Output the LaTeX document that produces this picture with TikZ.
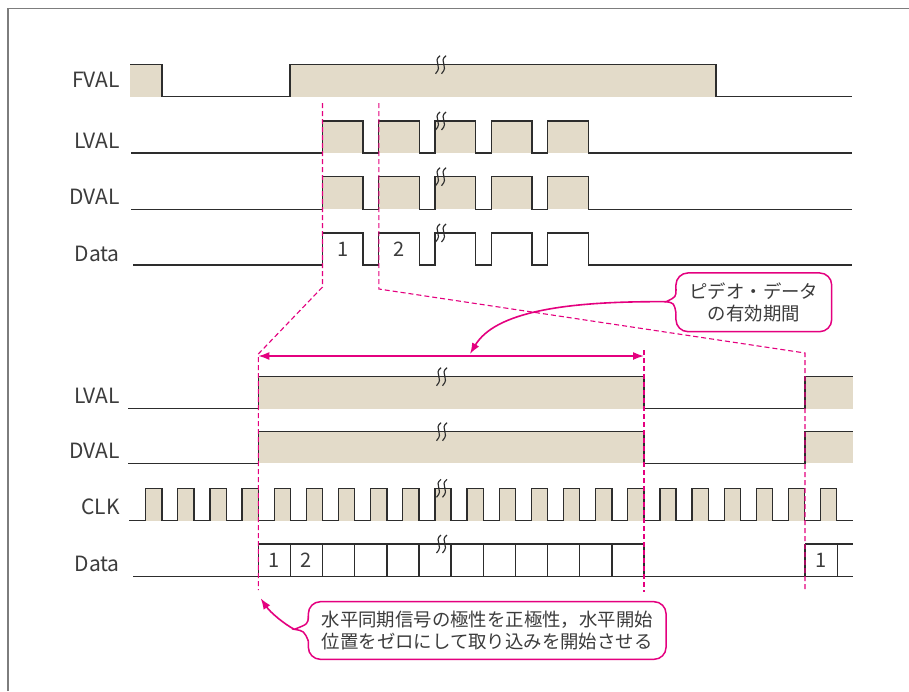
\documentclass[tikz,border=0pt]{standalone}
\usepackage{fontspec}
\setmainfont{Noto Sans CJK JP}
\usetikzlibrary{arrows.meta}
\definecolor{fillc}{RGB}{227,219,201}
\definecolor{linec}{RGB}{45,45,45}
\definecolor{mag}{RGB}{228,0,127}
\definecolor{framec}{RGB}{125,125,125}
\definecolor{txtc}{RGB}{60,60,60}
\newcommand\brkmark[2]{%
  \draw[brk] ({#1+3},{#2-9}) .. controls ({#1-5},{#2-3}) and ({#1+6.5},{#2+1}) .. ({#1-1.5},{#2+9});
  \draw[brk] ({#1+9},{#2-9}) .. controls ({#1+1},{#2-3}) and ({#1+12.5},{#2+1}) .. ({#1+4.5},{#2+9});
}
\begin{document}
\begin{tikzpicture}[x=1pt,y=-1pt,
 sig/.style={linec,line width=1.3pt,line join=miter},
 lbl/.style={anchor=east,inner sep=0pt,text=txtc,font=\fontsize{21}{25}\selectfont},
 num/.style={inner sep=0pt,text=txtc,font=\fontsize{20}{24}\selectfont},
 brk/.style={linec,line width=1.15pt},
 mdash/.style={mag,line width=1.1pt,dash pattern=on 5pt off 3pt},
 callout/.style={draw=mag,line width=1.5pt,fill=white,rounded corners=12pt,align=center,text=txtc,font=\fontsize{18.4}{22.5}\selectfont,inner sep=0pt},
 marrow/.style={mag,line width=1.6pt,-{Latex[length=11pt,width=8pt]}},
 darrow/.style={mag,line width=1.6pt,{Latex[length=11pt,width=8pt]}-{Latex[length=11pt,width=8pt]}},
]
\useasboundingbox (0,0) rectangle (909,691);
\fill[white] (0,0) rectangle (909,691);
% frame
\draw[framec,line width=1.3pt] (8,691) -- (8,8.5) -- (909,8.5);

% ---------------- top section ----------------
% FVAL
\fill[fillc] (130,64.7) rectangle (162,96.7);
\fill[fillc] (290,64.7) rectangle (716,96.7);
\draw[sig] (130,64.7) -- (162,64.7) -- (162,96.7) -- (290,96.7) -- (290,64.7) -- (716,64.7) -- (716,96.7) -- (852,96.7);
% LVAL
\foreach \k in {0,...,4} \fill[fillc] ({322.5+56.3*\k},121) rectangle ({363.1+56.3*\k},153);
\draw[sig] (131,153) foreach \k in {0,...,4} { -- ({322.5+56.3*\k},153) -- ({322.5+56.3*\k},121) -- ({363.1+56.3*\k},121) -- ({363.1+56.3*\k},153) } -- (852,153);
% DVAL
\foreach \k in {0,...,4} \fill[fillc] ({322.5+56.3*\k},176.7) rectangle ({363.1+56.3*\k},209.3);
\draw[sig] (131,209.3) foreach \k in {0,...,4} { -- ({322.5+56.3*\k},209.3) -- ({322.5+56.3*\k},176.7) -- ({363.1+56.3*\k},176.7) -- ({363.1+56.3*\k},209.3) } -- (852,209.3);
% Data
\draw[sig] (133,265) foreach \k in {0,...,4} { -- ({322.5+56.3*\k},265) -- ({322.5+56.3*\k},233) -- ({363.1+56.3*\k},233) -- ({363.1+56.3*\k},265) } -- (852,265);

\node[lbl] (fval) at (120,80) {FVAL};
\node[lbl] (lval1) at (120,141) {LVAL};
\node[lbl] (dval1) at (120,197) {DVAL};
\node[lbl] (data1) at (120,254) {Data};
\node[num] (t1) at (342.8,249) {1};
\node[num] (t2) at (399.1,249) {2};

% ---------------- bottom section ----------------
% LVAL
\fill[fillc] (258.3,376.7) rectangle (644,408.7);
\fill[fillc] (805,376.7) rectangle (852.7,408.7);
\draw[sig] (128,408.7) -- (258.3,408.7) -- (258.3,376.7) -- (644,376.7) -- (644,408.7) -- (805,408.7) -- (805,376.7) -- (852.7,376.7);
% DVAL
\fill[fillc] (258.3,431.7) rectangle (644,463.3);
\fill[fillc] (805,431.7) rectangle (852.7,463.3);
\draw[sig] (128,463.3) -- (258.3,463.3) -- (258.3,431.7) -- (644,431.7) -- (644,463.3) -- (805,463.3) -- (805,431.7) -- (852.7,431.7);
% CLK
\foreach \k in {-3,...,18} \fill[fillc] ({258.3+32.14*\k-16.2},488.3) rectangle ({258.3+32.14*\k},520.7);
\draw[sig] (129,520.7) foreach \k in {-3,...,18} { -- ({258.3+32.14*\k-16.2},520.7) -- ({258.3+32.14*\k-16.2},488.3) -- ({258.3+32.14*\k},488.3) -- ({258.3+32.14*\k},520.7) } -- (852.7,520.7);
% Data
\draw[sig] (133,576.7) -- (852.7,576.7);
\draw[sig] (258.3,544) -- (644,544);
\draw[sig] (805,544) -- (852.7,544);
\foreach \k in {0,...,12} \draw[sig] ({258.3+32.14*\k},544) -- ({258.3+32.14*\k},576.7);
\draw[sig] (805,544) -- (805,576.7);
\draw[sig] (837.2,544) -- (837.2,576.7);

\node[lbl] (lval2) at (120,396) {LVAL};
\node[lbl] (dval2) at (120,451) {DVAL};
\node[lbl] (clk) at (120,507) {CLK};
\node[lbl] (data2) at (120,564) {Data};
\node[num] (b1) at (274.4,560.5) {1};
\node[num] (b2) at (306.5,560.5) {2};
\node[num] (b3) at (821,560.5) {1};

% break marks
\brkmark{437}{64.7}
\brkmark{437}{121}
\brkmark{437}{176.7}
\brkmark{437}{233}
\brkmark{438}{376.7}
\brkmark{438}{431.7}
\brkmark{438}{488.3}
\brkmark{438}{544}

% ---------------- magenta guides ----------------
\draw[mdash] (322.5,103) -- (322.5,287) -- (258.3,354) -- (258.3,590);
\draw[mdash] (378.8,103) -- (378.8,289) -- (805,353) -- (805,591);
\draw[mdash] (644,350) -- (644,592);

\coordinate (ha) at (258.3,356);
\coordinate (hb) at (644,356);
\draw[darrow] (ha) -- (hb);

% callout 1
\node[callout,minimum width=155.7pt,minimum height=58.7pt] (c1) at (753.8,302.3) {ピデオ・データ\\の有効期間};
\coordinate (c1tip) at (666,301.7);
\fill[white] (678,289) -- (676,289) .. controls (676,297) .. (c1tip) .. controls (674,303) .. (676,313) -- (678,313) -- cycle;
\draw[mag,line width=1.5pt] (676,289) .. controls (676,297) .. (c1tip) .. controls (674,303) .. (676,313);
\coordinate (c1end) at (470,354);
\draw[marrow] (c1tip) .. controls (565,301) and (495,312) .. (c1end);

% callout 2
\node[callout,minimum width=357.7pt,minimum height=57.6pt] (c2) at (487.2,630.5) {水平同期信号の極性を正極性，水平開始\\位置をゼロにして取り込みを開始させる};
\coordinate (c2tip) at (294.3,629.3);
\fill[white] (310.5,616) -- (308.4,616) .. controls (308,624) .. (c2tip) .. controls (304,631) .. (308.4,641) -- (310.5,641) -- cycle;
\draw[mag,line width=1.5pt] (308.4,616) .. controls (308,624) .. (c2tip) .. controls (304,631) .. (308.4,641);
\coordinate (c2end) at (260.7,598.3);
\draw[marrow] (c2tip) .. controls (284,624) and (270,612) .. (c2end);
\end{tikzpicture}
\end{document}
